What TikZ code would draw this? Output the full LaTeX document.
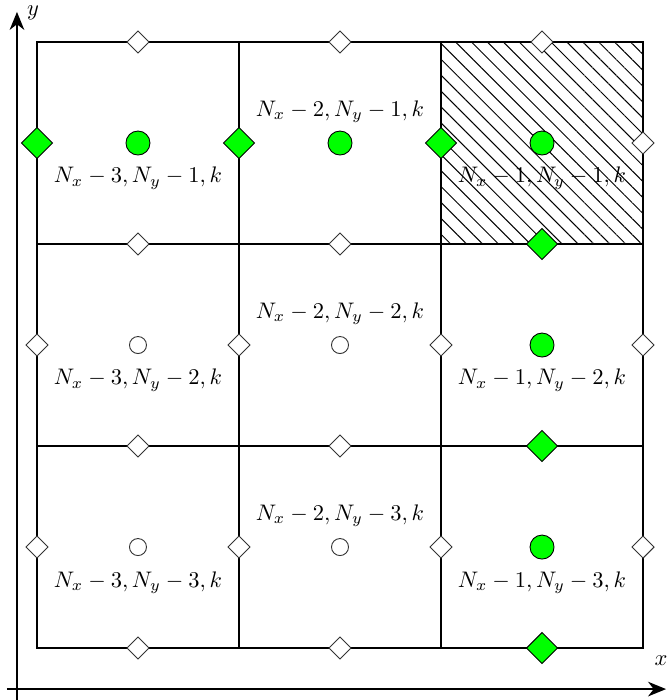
\documentclass[tikz,border=0pt]{standalone}
\usepackage{xcolor}
\usetikzlibrary{arrows.meta,shapes.geometric,patterns.meta}

\begin{document}
\begin{tikzpicture}[
  x=3.156cm, y=3.156cm,
  gridline/.style={thick, draw=black},
  axisline/.style={-{Stealth[length=8pt,width=6.5pt,inset=2.5pt]}, thick},
  valgreen/.style={
    circle, draw=black, fill=green,
    inner sep=0pt, minimum size=0.375cm
  },
  valempty/.style={
    circle, draw=black!80, fill=white,
    inner sep=0pt, minimum size=0.266cm
  },
  fluxgreen/.style={
    diamond, draw=black, fill=green,
    inner sep=0pt, minimum size=0.49cm
  },
  fluxempty/.style={
    diamond, draw=black!80, fill=white,
    inner sep=0pt, minimum size=0.35cm
  },
  celllabel/.style={inner sep=1pt}
]
\useasboundingbox (-0.183,-0.257) rectangle (3.114,3.208);

% axes
\coordinate (xfrom) at (-0.149,-0.203);
\coordinate (xto)   at (3.114,-0.203);
\coordinate (yfrom) at (-0.099,-0.257);
\coordinate (yto)   at (-0.099,3.149);
\draw[axisline] (xfrom) -- (xto);
\draw[axisline] (yfrom) -- (yto);
\node (xlab) at (3.089,-0.064) {$x$};
\node (ylab) at (-0.020,3.144) {$y$};

% cell indices
\node[celllabel] (l13) at (0.5,2.325) {$N_x-3,N_y-1,k$};
\node[celllabel] (l23) at (1.5,2.655) {$N_x-2,N_y-1,k$};
\node[celllabel] (l33) at (2.5,2.325) {$N_x-1,N_y-1,k$};
\node[celllabel] (l12) at (0.5,1.325) {$N_x-3,N_y-2,k$};
\node[celllabel] (l22) at (1.5,1.655) {$N_x-2,N_y-2,k$};
\node[celllabel] (l32) at (2.5,1.325) {$N_x-1,N_y-2,k$};
\node[celllabel] (l11) at (0.5,0.325) {$N_x-3,N_y-3,k$};
\node[celllabel] (l21) at (1.5,0.655) {$N_x-2,N_y-3,k$};
\node[celllabel] (l31) at (2.5,0.325) {$N_x-1,N_y-3,k$};

% corner cell
\fill[pattern={Lines[angle=-45,distance=5pt,line width=0.45pt]}] (2,2) rectangle (3,3);

% mesh
\draw[gridline] (0,0) rectangle (3,3);
\draw[gridline] (1,0) -- (1,3);
\draw[gridline] (2,0) -- (2,3);
\draw[gridline] (0,1) -- (3,1);
\draw[gridline] (0,2) -- (3,2);

% cell centres
\node[valgreen] (c13) at (0.5,2.5) {};
\node[valgreen] (c23) at (1.5,2.5) {};
\node[valgreen] (c33) at (2.5,2.5) {};
\node[valempty] (c12) at (0.5,1.5) {};
\node[valempty] (c22) at (1.5,1.5) {};
\node[valgreen] (c32) at (2.5,1.5) {};
\node[valempty] (c11) at (0.5,0.5) {};
\node[valempty] (c21) at (1.5,0.5) {};
\node[valgreen] (c31) at (2.5,0.5) {};

% x faces
\node[fluxgreen] (u03) at (0,2.5) {};
\node[fluxgreen] (u13) at (1,2.5) {};
\node[fluxgreen] (u23) at (2,2.5) {};
\node[fluxempty] (u33) at (3,2.5) {};
\node[fluxempty] (u02) at (0,1.5) {};
\node[fluxempty] (u12) at (1,1.5) {};
\node[fluxempty] (u22) at (2,1.5) {};
\node[fluxempty] (u32) at (3,1.5) {};
\node[fluxempty] (u01) at (0,0.5) {};
\node[fluxempty] (u11) at (1,0.5) {};
\node[fluxempty] (u21) at (2,0.5) {};
\node[fluxempty] (u31) at (3,0.5) {};

% y faces
\node[fluxempty] (v13) at (0.5,3) {};
\node[fluxempty] (v23) at (1.5,3) {};
\node[fluxempty] (v33) at (2.5,3) {};
\node[fluxempty] (v12) at (0.5,2) {};
\node[fluxempty] (v22) at (1.5,2) {};
\node[fluxgreen] (v32) at (2.5,2) {};
\node[fluxempty] (v11) at (0.5,1) {};
\node[fluxempty] (v21) at (1.5,1) {};
\node[fluxgreen] (v31) at (2.5,1) {};
\node[fluxempty] (v10) at (0.5,0) {};
\node[fluxempty] (v20) at (1.5,0) {};
\node[fluxgreen] (v30) at (2.5,0) {};
\end{tikzpicture}
\end{document}
